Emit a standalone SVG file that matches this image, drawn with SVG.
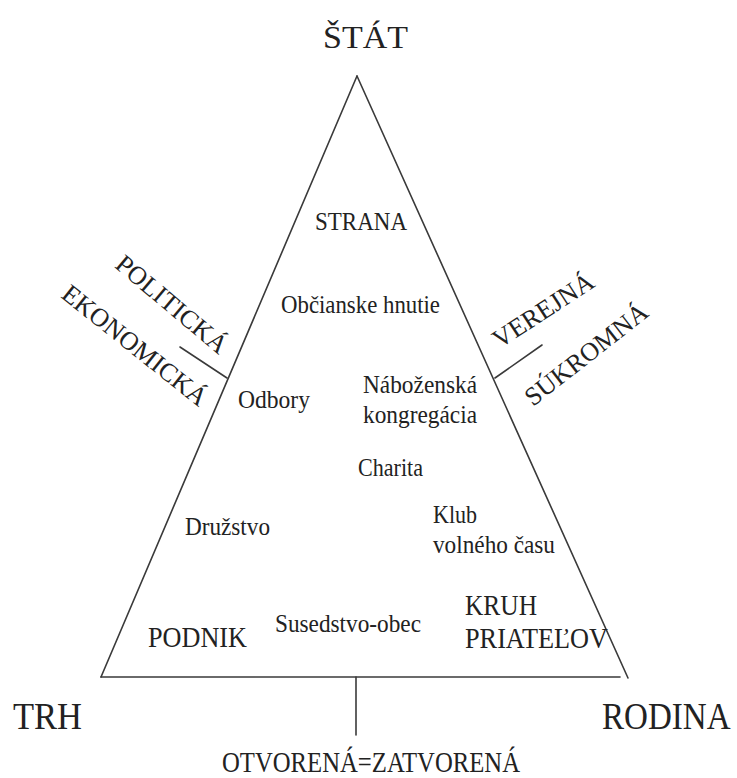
<svg xmlns="http://www.w3.org/2000/svg" width="737" height="778" viewBox="0 0 737 778">
<style>
  .t { fill: #222; }
  .in { font-size: 25px; }
  .big { font-size: 29px; }
  .corner { font-size: 38px; }
  .rot { font-size: 26px; text-anchor: middle; }
  .ln { stroke: #3a3a3a; stroke-width: 1.6; fill: none; stroke-linecap: round; }
</style>
<rect width="737" height="778" fill="#fff"/>
<g id="connectors">
  <line class="ln" x1="357" y1="76" x2="101" y2="677"/>
  <line class="ln" x1="357" y1="76" x2="628" y2="678"/>
  <line class="ln" x1="101" y1="677" x2="620" y2="677"/>
  <line class="ln" x1="356" y1="677" x2="356" y2="735"/>
  <line class="ln" x1="180" y1="347" x2="227" y2="378"/>
  <line class="ln" x1="542" y1="345" x2="495" y2="378"/>
</g>
<g class="t" font-family="Liberation Serif, DejaVu Serif, serif">
<g id="stat"><text x="323" y="48" font-size="32" textLength="85" lengthAdjust="spacingAndGlyphs">ŠTÁT</text></g>
<g id="trh"><text class="corner" x="13" y="729" textLength="69" lengthAdjust="spacingAndGlyphs">TRH</text></g>
<g id="rodina"><text class="corner" transform="translate(602,729) scale(0.87,1)">RODINA</text></g>
<g id="otvorena"><text x="222" y="771.5" font-size="29" textLength="298" lengthAdjust="spacingAndGlyphs">OTVORENÁ=ZATVORENÁ</text></g>
<g id="strana"><text class="in" x="315" y="230" textLength="92" lengthAdjust="spacingAndGlyphs">STRANA</text></g>
<g id="obcianske"><text class="in" x="281" y="313" textLength="159" lengthAdjust="spacingAndGlyphs">Občianske hnutie</text></g>
<g id="odbory"><text class="in" x="238" y="408" textLength="72" lengthAdjust="spacingAndGlyphs">Odbory</text></g>
<g id="nabozenska">
  <text class="in" x="363" y="393" textLength="114" lengthAdjust="spacingAndGlyphs">Náboženská</text>
  <text class="in" x="363" y="423" textLength="114" lengthAdjust="spacingAndGlyphs">kongregácia</text>
</g>
<g id="charita"><text class="in" x="358" y="476" textLength="65" lengthAdjust="spacingAndGlyphs">Charita</text></g>
<g id="druzstvo"><text class="in" x="185" y="535" textLength="85" lengthAdjust="spacingAndGlyphs">Družstvo</text></g>
<g id="klub">
  <text class="in" x="433" y="523" textLength="44" lengthAdjust="spacingAndGlyphs">Klub</text>
  <text class="in" x="433" y="553" textLength="122" lengthAdjust="spacingAndGlyphs">volného času</text>
</g>
<g id="podnik"><text class="big" x="148" y="647" textLength="99" lengthAdjust="spacingAndGlyphs">PODNIK</text></g>
<g id="susedstvo"><text class="in" x="275" y="632" textLength="146" lengthAdjust="spacingAndGlyphs">Susedstvo-obec</text></g>
<g id="kruh">
  <text class="big" x="465" y="615" textLength="72" lengthAdjust="spacingAndGlyphs">KRUH</text>
  <text class="big" x="465" y="648" textLength="143" lengthAdjust="spacingAndGlyphs">PRIATEĽOV</text>
</g>
<g id="politicka" transform="translate(172,304) rotate(40)"><text class="rot" x="0" y="9">POLITICKÁ</text></g>
<g id="ekonomicka" transform="translate(135,345) rotate(38.5)"><text class="rot" x="0" y="9">EKONOMICKÁ</text></g>
<g id="verejna" transform="translate(543,310) rotate(-33)"><text class="rot" x="0" y="9">VEREJNÁ</text></g>
<g id="sukromna" transform="translate(586,354) rotate(-38)"><text class="rot" x="0" y="9">SÚKROMNÁ</text></g>
</g>
</svg>
